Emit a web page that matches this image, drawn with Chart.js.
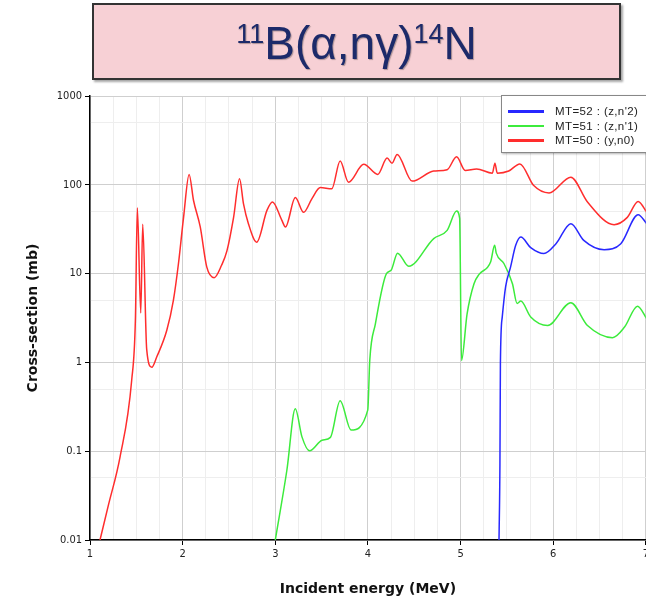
<!DOCTYPE html>
<html>
<head>
<meta charset="utf-8">
<script src="https://cdn.jsdelivr.net/npm/chart.js@4/dist/chart.umd.min.js"></script>
<style>
  html, body { margin: 0; padding: 0; background: #fff; width: 646px; height: 601px; overflow: hidden; }
  #wrap { position: relative; width: 646px; height: 601px; overflow: hidden; }
  #chartBox { position: absolute; left: 0; top: 0; width: 652px; height: 601px; }
  #titleBox {
    position: absolute; left: 92px; top: 3px; width: 525px; height: 73px;
    background: #f7d0d5; border: 2px solid #333;
    box-shadow: 2px 2px 2px rgba(0,0,0,0.35);
    font-family: "Liberation Sans", Arial, sans-serif; font-size: 46px;
    color: #1c2a6a; text-align: center; line-height: 77px;
    text-shadow: 1px 1px 1px rgba(0,0,0,0.3);
  }
  #titleBox sup { font-size: 27px; vertical-align: 16px; line-height: 0; }
  #legend {
    position: absolute; left: 501px; top: 95px; width: 150px; height: 56px;
    background: #fff; border: 1px solid #888; box-shadow: 1px 1px 2px rgba(0,0,0,0.3);
    font-family: "Liberation Sans", Arial, sans-serif; font-size: 11.5px; color: #222;
    letter-spacing: 0.4px;
  }
  .row { position: absolute; left: 0; height: 14px; line-height: 14px; }
  .row span.ln { position: absolute; left: 6px; top: 6px; width: 36px; height: 2.5px; }
  .row span.tx { position: absolute; left: 53px; top: 0; white-space: nowrap; }
</style>
</head>
<body>
<div id="wrap">
  <div id="chartBox"><canvas id="xsChart"></canvas></div>
  <div id="titleBox"><sup>11</sup>B(α,nγ)<sup>14</sup>N</div>
  <div id="legend"></div>
</div>
<script>
// MT=50 : (y,n0)
var energyRed = [1.108, 1.2, 1.324, 1.45, 1.49, 1.511, 1.548, 1.569, 1.612, 1.667, 1.72, 1.829, 1.90, 1.955, 2.01, 2.07, 2.117, 2.19, 2.26, 2.34, 2.42, 2.478, 2.55, 2.614, 2.657, 2.71, 2.80, 2.91, 2.97, 3.07, 3.11, 3.216, 3.306, 3.396, 3.486, 3.61, 3.70, 3.79, 3.955, 4.106, 4.207, 4.26, 4.315, 4.477, 4.71, 4.855, 4.957, 5.05, 5.173, 5.343, 5.371, 5.396, 5.52, 5.64, 5.79, 5.955, 6.19, 6.37, 6.657, 6.80, 6.917, 7.01];
var xsRed = [0.01, 0.025, 0.086, 0.63, 3, 55, 3.6, 36, 1.4, 0.88, 1.15, 2.3, 5.0, 13, 43, 131, 67, 33.5, 11.9, 9.0, 12.4, 18, 43, 117, 61, 36.5, 22.6, 51.5, 64, 40, 33.5, 72, 49, 70, 93, 90, 185, 107, 170, 131, 200, 175, 220, 110, 143, 148, 207, 145, 151, 135, 175, 135, 143, 172, 98, 81, 122, 64, 35.6, 43, 65, 49];

// MT=51 : (z,n'1)
var energyGreen = [3.0, 3.125, 3.216, 3.288, 3.37, 3.505, 3.595, 3.70, 3.818, 3.998, 4.02, 4.08, 4.20, 4.25, 4.32, 4.44, 4.71, 4.855, 4.957, 4.99, 5.01, 5.07, 5.145, 5.2, 5.324, 5.368, 5.385, 5.468, 5.56, 5.61, 5.65, 5.757, 5.94, 6.19, 6.37, 6.64, 6.77, 6.91, 7.01];
var xsGreen = [0.01, 0.061, 0.30, 0.145, 0.101, 0.133, 0.143, 0.37, 0.173, 0.29, 1.06, 2.7, 10, 10.9, 17, 12.1, 24.8, 30.7, 50.6, 42, 1.05, 3.5, 7.7, 9.8, 13.5, 20.8, 17, 13, 7.7, 4.6, 4.9, 3.25, 2.6, 4.7, 2.6, 1.9, 2.5, 4.3, 3.1];

// MT=52 : (z,n'2)
var energyBlue = [5.415, 5.425, 5.43, 5.45, 5.486, 5.54, 5.595, 5.65, 5.757, 5.9, 6.03, 6.19, 6.33, 6.55, 6.73, 6.917, 7.01];
var xsBlue = [0.01, 0.073, 0.97, 3.25, 7.1, 11.9, 20.8, 25.8, 19.6, 16.8, 21.7, 36.5, 23.7, 18.6, 21.7, 46, 36.5];

var seriesLabels = ["MT=52 : (z,n'2)", "MT=51 : (z,n'1)", "MT=50 : (y,n0)"];
var seriesColors = ['rgb(40, 40, 255)', 'rgb(60, 235, 60)', 'rgb(255, 45, 45)'];

var yDecades = [0.01, 0.1, 1, 10, 100, 1000];
var yMinor = [0.05, 0.5, 5, 50, 500];

function toPoints(xs, ys) {
    return xs.map(function (x, i) { return { x: x, y: ys[i] }; });
}

var energies = [energyBlue, energyGreen, energyRed];
var values = [xsBlue, xsGreen, xsRed];

var datasets = [];
for (var i = 0; i < seriesLabels.length; i++) {
    datasets.push({
        label: seriesLabels[i],
        data: toPoints(energies[i], values[i]),
        borderColor: seriesColors[i],
        backgroundColor: seriesColors[i],
        borderWidth: 1.5,
        pointRadius: 0,
        cubicInterpolationMode: 'monotone',
        fill: false
    });
}

// html legend
var legendBox = document.getElementById('legend');
seriesLabels.forEach(function (lab, i) {
    var row = document.createElement('div');
    row.className = 'row';
    row.style.top = (8 + i * 14.5) + 'px';
    row.innerHTML = '<span class="ln" style="background:' + seriesColors[i] + '"></span><span class="tx"></span>';
    row.querySelector('.tx').textContent = lab;
    legendBox.appendChild(row);
});

var tickFont = { family: "'DejaVu Sans Condensed', 'DejaVu Sans', sans-serif", size: 11 };
var titleFont = { family: "'DejaVu Sans', sans-serif", size: 14, weight: 'bold' };

var chartXs = new Chart(document.getElementById('xsChart'), {
    type: 'line',
    data: { datasets: datasets },
    options: {
        responsive: true,
        maintainAspectRatio: false,
        animation: false,
        layout: { padding: { top: 96, left: 0, right: 0, bottom: 0 } },
        plugins: {
            legend: { display: false },
            tooltip: { enabled: false }
        },
        scales: {
            x: {
                type: 'linear',
                min: 1,
                max: 7,
                afterFit: function (scale) { scale.height = 61; },
                ticks: {
                    stepSize: 0.25,
                    autoSkip: false,
                    maxRotation: 0,
                    padding: 3,
                    color: '#222',
                    font: tickFont,
                    callback: function (v) { return Number.isInteger(v) ? String(v) : ''; }
                },
                grid: {
                    tickLength: 5,
                    color: function (ctx) { return Number.isInteger(ctx.tick.value) ? '#cfcfcf' : '#eeeeee'; },
                    tickColor: function (ctx) { return Number.isInteger(ctx.tick.value) ? '#000' : 'rgba(0,0,0,0)'; }
                },
                border: { color: '#000', width: 1.5 },
                title: {
                    display: true,
                    text: 'Incident energy (MeV)',
                    color: '#111',
                    font: titleFont,
                    padding: { top: 0, bottom: 3 }
                }
            },
            y: {
                type: 'logarithmic',
                min: 0.01,
                max: 1000,
                afterFit: function (scale) { scale.width = 90; },
                afterBuildTicks: function (scale) {
                    scale.ticks = yDecades.concat(yMinor).sort(function (a, b) { return a - b; })
                        .map(function (v) { return { value: v }; });
                },
                ticks: {
                    padding: 3,
                    color: '#222',
                    font: tickFont,
                    callback: function (v) { return yDecades.indexOf(v) >= 0 ? String(v) : ''; }
                },
                grid: {
                    tickLength: 5,
                    color: function (ctx) { return yDecades.indexOf(ctx.tick.value) >= 0 ? '#cfcfcf' : '#eeeeee'; },
                    tickColor: function (ctx) { return yDecades.indexOf(ctx.tick.value) >= 0 ? '#000' : 'rgba(0,0,0,0)'; }
                },
                border: { color: '#000', width: 1.5 },
                title: {
                    display: true,
                    text: 'Cross-section (mb)',
                    color: '#111',
                    font: titleFont,
                    padding: { top: 25, bottom: 0 }
                }
            }
        }
    }
});
</script>
</body>
</html>
